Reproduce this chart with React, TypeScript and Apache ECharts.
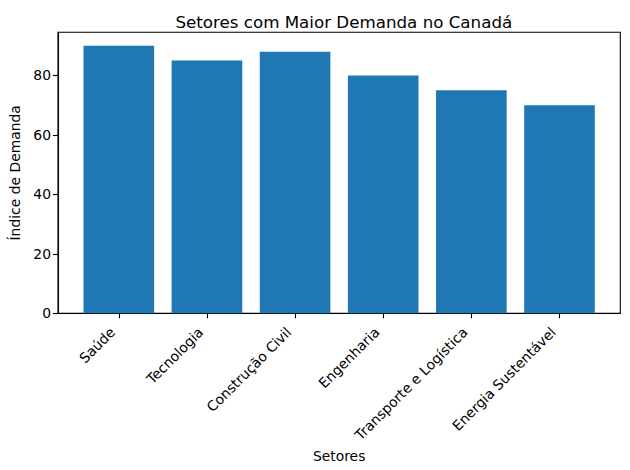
import React, { useEffect, useRef } from "react";
import * as echarts from "echarts";

const categories = ["Saúde", "Tecnologia", "Construção Civil", "Engenharia", "Transporte e Logística", "Energia Sustentável"];
const values = [90, 85, 88, 80, 75, 70];
const yTicks = [0, 20, 40, 60, 80];

export default function App() {
  const ref = useRef<HTMLDivElement>(null);
  useEffect(() => {
    if (!ref.current) return;
    const chart = echarts.init(ref.current, undefined, { renderer: "svg" });
    const font = "DejaVu Sans";
    const positions = categories.map((_, i) => i);
    chart.setOption({
      animation: false,
      textStyle: { fontFamily: font },
      title: {
        text: "Setores com Maior Demanda no Canadá",
        left: 338.8,
        textAlign: "center",
        top: 8,
        textStyle: { fontFamily: font, fontSize: 16.7, fontWeight: "normal", color: "#000" },
      },
      grid: {
        left: 57.3,
        top: 32.3,
        right: 9.7,
        bottom: 156.7,
        show: true,
        borderColor: "#000",
        borderWidth: 1.1,
        backgroundColor: "transparent",
      },
      xAxis: {
        type: "value",
        min: -0.69,
        max: 5.69,
        name: "Setores",
        nameLocation: "middle",
        nameGap: 131,
        nameTextStyle: { fontFamily: font, fontSize: 13.9, color: "#000" },
        axisLine: { show: true, onZero: false, lineStyle: { color: "#000", width: 1.1 } },
        splitLine: { show: false },
        axisTick: { show: true, customValues: positions, length: 5, lineStyle: { color: "#000", width: 1.1 } },
        axisLabel: {
          customValues: positions,
          rotate: 45,
          margin: 10,
          padding: [0, 9, 0, 0],
          fontFamily: font,
          fontSize: 13.9,
          color: "#000",
          formatter: (v: number) => categories[Math.round(v)] ?? "",
        },
      },
      yAxis: {
        type: "value",
        min: 0,
        max: 94.5,
        interval: 20,
        name: "Índice de Demanda",
        nameLocation: "middle",
        nameRotate: 90,
        nameGap: 36,
        nameTextStyle: { fontFamily: font, fontSize: 13.9, color: "#000" },
        axisLine: { show: true, onZero: false, lineStyle: { color: "#000", width: 1.1 } },
        splitLine: { show: false },
        axisTick: { show: true, customValues: yTicks, length: 5, lineStyle: { color: "#000", width: 1.1 } },
        axisLabel: {
          customValues: yTicks,
          margin: 7,
          fontFamily: font,
          fontSize: 13.9,
          color: "#000",
        },
      },
      series: [
        {
          type: "bar",
          data: values.map((v, i) => [i, v]),
          barWidth: 70.6,
          itemStyle: { color: "#1f77b4" },
        },
      ],
    });
    return () => chart.dispose();
  }, []);
  return <div ref={ref} style={{ width: 630, height: 470, position: "absolute", left: 0, top: 0 }} />;
}
